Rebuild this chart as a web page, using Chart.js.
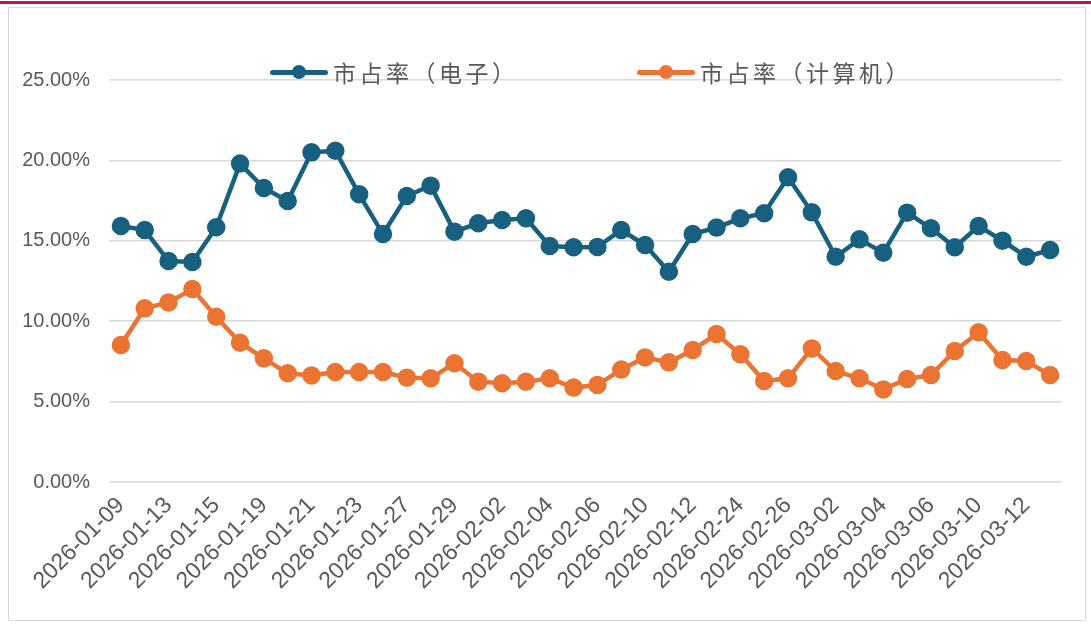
<!DOCTYPE html>
<html>
<head>
<meta charset="utf-8">
<script src="https://cdn.jsdelivr.net/npm/chart.js@4.4.1/dist/chart.umd.min.js"></script>
<style>
  html, body { margin: 0; padding: 0; background: #fff; width: 1091px; height: 626px; overflow: hidden; }
  #topbar { position: absolute; left: 0; top: 1px; width: 1091px; height: 3px; background: #C0105E; }
  #frame { position: absolute; left: 8px; top: 7px; width: 1078px; height: 614px; border: 1px solid #D9D9D9; box-sizing: border-box; pointer-events: none; }
  #wrap { position: absolute; left: 0; top: 0; width: 1091px; height: 626px; }
  .legend-item { position: absolute; top: 58px; height: 28px; display: flex; align-items: center; }
  .legend-mark { position: relative; width: 58px; height: 14px; margin-right: 5px; }
  .legend-mark .ln { position: absolute; left: 0; right: 0; top: 4.5px; height: 5px; border-radius: 3px; }
  .legend-mark .dot { position: absolute; left: 22px; top: 0; width: 14px; height: 14px; border-radius: 50%; }
  .legend-text { font-family: "Noto Sans CJK SC", sans-serif; font-size: 23px; letter-spacing: 3.5px; color: #595959; white-space: nowrap; }
</style>
</head>
<body>
<div id="topbar"></div>
<div id="wrap"><canvas id="shareChart"></canvas></div>
<div id="frame"></div>
<div id="legend"></div>

<script>
// trading days on the category axis
const dates = [
  '2026-01-09', '2026-01-12', '2026-01-13', '2026-01-14', '2026-01-15', '2026-01-16',
  '2026-01-19', '2026-01-20', '2026-01-21', '2026-01-22', '2026-01-23', '2026-01-26',
  '2026-01-27', '2026-01-28', '2026-01-29', '2026-01-30', '2026-02-02', '2026-02-03',
  '2026-02-04', '2026-02-05', '2026-02-06', '2026-02-09', '2026-02-10', '2026-02-11',
  '2026-02-12', '2026-02-13', '2026-02-24', '2026-02-25', '2026-02-26', '2026-02-27',
  '2026-03-02', '2026-03-03', '2026-03-04', '2026-03-05', '2026-03-06', '2026-03-09',
  '2026-03-10', '2026-03-11', '2026-03-12', '2026-03-13'
];

const seriesNames = ['市占率（电子）', '市占率（计算机）'];

// market share, percent
const shareElectronics = [
  15.92, 15.67, 13.74, 13.68, 15.84, 19.80, 18.28, 17.47, 20.50, 20.60,
  17.89, 15.42, 17.79, 18.43, 15.57, 16.09, 16.29, 16.40, 14.68, 14.60,
  14.62, 15.67, 14.74, 13.08, 15.42, 15.82, 16.40, 16.71, 18.95, 16.77,
  14.01, 15.09, 14.26, 16.75, 15.78, 14.60, 15.92, 15.01, 14.01, 14.43
];

const shareComputers = [
  8.52, 10.80, 11.17, 12.00, 10.28, 8.66, 7.69, 6.76, 6.63, 6.84,
  6.84, 6.84, 6.49, 6.45, 7.38, 6.24, 6.14, 6.24, 6.45, 5.87,
  6.03, 7.00, 7.75, 7.44, 8.21, 9.20, 7.94, 6.28, 6.45, 8.31,
  6.90, 6.45, 5.76, 6.41, 6.65, 8.15, 9.31, 7.59, 7.52, 6.65
];

const yMin = 0;
const yMax = 25;
const yStep = 5;

const colors = ['#17607F', '#EB7432'];
const legendLeft = [270, 637];

// custom HTML legend (sits on top of the plot area like the original)
const legendEl = document.getElementById('legend');
seriesNames.forEach((name, i) => {
  const item = document.createElement('div');
  item.className = 'legend-item';
  item.style.left = legendLeft[i] + 'px';
  item.innerHTML =
    '<div class="legend-mark"><div class="ln" style="background:' + colors[i] + '"></div>' +
    '<div class="dot" style="background:' + colors[i] + '"></div></div>' +
    '<span class="legend-text">' + name + '</span>';
  legendEl.appendChild(item);
});

function lineDataset(label, data, color) {
  return {
    label: label,
    data: data,
    borderColor: color,
    backgroundColor: color,
    pointBackgroundColor: color,
    pointBorderColor: color,
    borderWidth: 4.5,
    pointRadius: 7,
    pointHoverRadius: 7,
    tension: 0,
    fill: false
  };
}

new Chart(document.getElementById('shareChart'), {
  type: 'line',
  data: {
    labels: dates,
    datasets: [
      lineDataset(seriesNames[0], shareElectronics, colors[0]),
      lineDataset(seriesNames[1], shareComputers, colors[1])
    ]
  },
  options: {
    responsive: true,
    maintainAspectRatio: false,
    animation: false,
    layout: { padding: { top: 80, right: 29, left: 0, bottom: 0 } },
    plugins: {
      legend: { display: false },
      tooltip: { enabled: false }
    },
    scales: {
      x: {
        offset: true,
        grid: { display: false, drawTicks: false },
        border: { display: false },
        afterFit: (scale) => { scale.height = 144; },
        ticks: {
          autoSkip: false,
          maxRotation: 45,
          minRotation: 45,
          padding: 10,
          color: '#595959',
          font: { family: "'Liberation Sans', Arial, sans-serif", size: 23 },
          // only every second date is labelled
          callback: function (value, index) {
            return index % 2 === 0 ? this.getLabelForValue(value) : null;
          }
        }
      },
      y: {
        min: yMin,
        max: yMax,
        afterFit: (scale) => { scale.width = 109; },
        grid: { color: '#D9D9D9', lineWidth: 1.5, drawTicks: false },
        border: { display: false },
        ticks: {
          stepSize: yStep,
          padding: 19,
          color: '#595959',
          font: { family: "'Liberation Sans', Arial, sans-serif", size: 20 },
          callback: (v) => v.toFixed(2) + '%'
        }
      }
    }
  }
});
</script>
</body>
</html>
